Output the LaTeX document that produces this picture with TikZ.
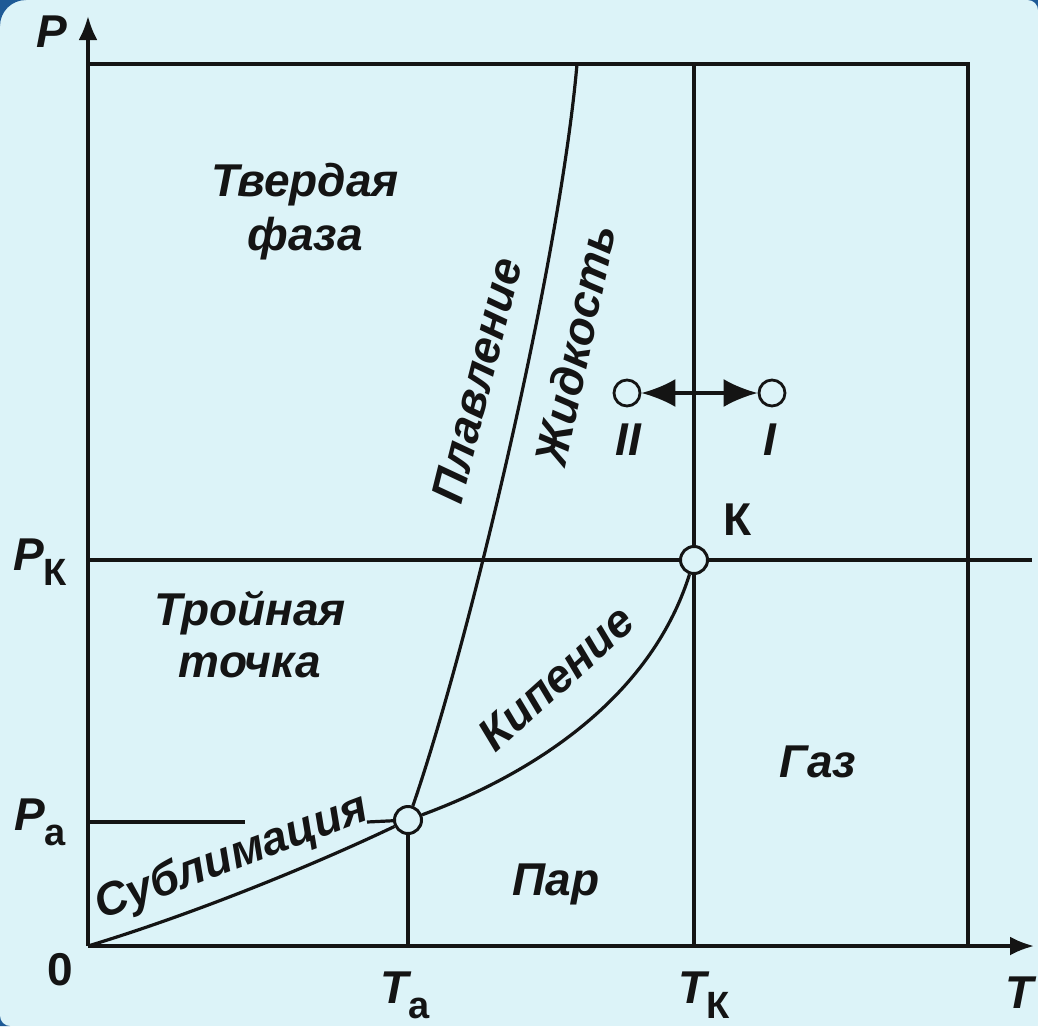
\documentclass[tikz,border=0pt]{standalone}
\usepackage{fontspec}
\setmainfont{Liberation Sans}
\usetikzlibrary{arrows.meta}
\definecolor{bgc}{RGB}{220,243,248}
\definecolor{edgeblue}{RGB}{30,90,150}
\definecolor{ink}{RGB}{20,20,20}
\tikzset{
  ln/.style={draw=ink, line width=3.2pt},
  axis/.style={draw=ink, line width=3.4pt, -{Latex[length=24pt,width=19pt]}},
  pt/.style={circle, draw=ink, line width=3pt, fill=bgc, minimum size=27pt, inner sep=0pt},
  spt/.style={circle, draw=ink, line width=2.8pt, fill=bgc, minimum size=26pt, inner sep=0pt},
  lab/.style={font=\fontsize{46}{52}\selectfont\bfseries\itshape, text=ink, inner sep=0pt, align=center},
}
\newcommand{\subtxt}[1]{\raisebox{-15pt}{\fontsize{38}{40}\selectfont\upshape #1}}
\begin{document}
\begin{tikzpicture}[x=1pt,y=-1pt]
\fill[bgc] (0,0) rectangle (1038,1026);
\fill[edgeblue] (0,0) -- (26,0) .. controls (11.6,0) and (0,11.6) .. (0,26) -- cycle;
\fill[edgeblue] (1038,0) -- (1028,0) .. controls (1033.5,0) and (1038,4.5) .. (1038,10) -- cycle;
\fill[edgeblue] (0,1026) -- (0,1016) .. controls (0,1021.5) and (4.5,1026) .. (10,1026) -- cycle;
\useasboundingbox (0,0) rectangle (1038,1026);

% key points
\coordinate (O) at (88,946);
\coordinate (Ptop) at (88,16);
\coordinate (Tend) at (1034,946);
\coordinate (TL) at (88,64);
\coordinate (TR) at (968,64);
\coordinate (BR) at (968,946);
\coordinate (Ktop) at (694,64);
\coordinate (Kbot) at (694,946);
\coordinate (PKl) at (88,560);
\coordinate (PKr) at (1032,560);
\coordinate (Pal) at (88,822);
\coordinate (Pam) at (245,822);
\coordinate (Pas) at (367,822);
\coordinate (Abot) at (408,946);
\coordinate (Mtop) at (577,64);

% grid lines
\draw[ln] (TL) -- (TR) -- (BR);
\draw[ln] (Ktop) -- (Kbot);
\draw[ln] (PKl) -- (PKr);
\draw[ln] (Pal) -- (Pam);

% axes
\draw[axis] (O) -- (Ptop);
\draw[axis] (O) -- (Tend);

% points
\node[pt] (A) at (408,820) {};
\node[pt] (K) at (694,560) {};
\node[spt] (II) at (627,393) {};
\node[spt] (I) at (772,393) {};

\draw[ln] (Pas) -- (A);
\draw[ln] (A) -- (Abot);

% curves
\draw[ln] (O) .. controls (200,912) and (320,862) .. (A);
\draw[ln] (A) .. controls (530,775) and (650,700) .. (K);
\draw[ln] (A) .. controls (470,640) and (560,260) .. (Mtop);

% arrow
\draw[ln, {Latex[length=34pt,width=28pt]}-{Latex[length=34pt,width=28pt]}] (II) -- (I);

% labels
\node[lab] (tv) at (305,212) {Твердая\\[2pt]фаза};
\node[lab] (tr) at (250,634) {Тройная\\[0pt]точка};
\node[lab] (gaz) at (818,762) {Газ};
\node[lab] (par) at (556,884) {Пар};
\node[lab, rotate=76] (plav) at (477,380) {Плавление};
\node[lab, rotate=78] (zhid) at (575,345) {Жидкость};
\node[lab, rotate=42] (kip) at (556,678) {Кипение};
\node[lab, rotate=20.5] (subl) at (232,858) {Сублимация};
\node[lab] (lII) at (628,440) {II};
\node[lab] (lI) at (770,440) {I};
\node[lab, font=\fontsize{46}{52}\selectfont\bfseries] (lK) at (738,520) {К};

\node[lab] (lP) at (52,32) {P};
\node[lab] (lT) at (1020,993) {T};
\node[lab, font=\fontsize{46}{52}\selectfont\bfseries] (l0) at (60,970) {0};
\node[lab] (lPK) at (40,562) {P\subtxt{К}};
\node[lab] (lPa) at (40,822) {P\subtxt{а}};
\node[lab] (lTa) at (405,995) {T\subtxt{а}};
\node[lab] (lTK) at (704,995) {T\subtxt{К}};
\end{tikzpicture}
\end{document}
